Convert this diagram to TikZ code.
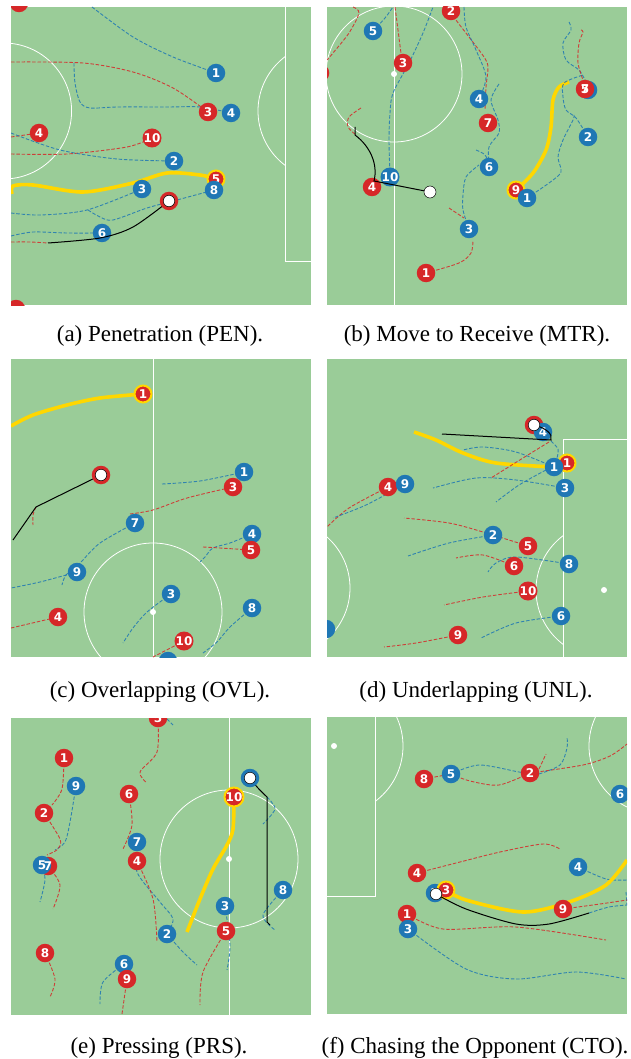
\documentclass[tikz,border=0pt]{standalone}
\usepackage{fontspec}
\setmainfont{Liberation Serif}
\newfontfamily\numfont{DejaVu Sans}
\definecolor{pitch}{RGB}{154,204,152}
\definecolor{pred}{RGB}{214,39,40}
\definecolor{pblue}{RGB}{31,119,180}
\definecolor{pyel}{RGB}{255,215,0}
\tikzset{
 pl/.style={circle, minimum size=18.5pt, inner sep=0pt, text=white, font=\numfont\bfseries\fontsize{12}{12}\selectfont},
 rp/.style={pl, fill=pred},
 bp/.style={pl, fill=pblue},
 rpy/.style={pl, fill=pred, draw=pyel, line width=2pt, minimum size=17pt},
 ballring/.style={circle, minimum size=18.5pt, inner sep=0pt, fill=#1},
 ballc/.style={circle, minimum size=11.5pt, inner sep=0pt, fill=white, draw=black, line width=0.5pt},
 trr/.style={draw=pred, line width=0.9pt, dash pattern=on 3.5pt off 1.8pt, opacity=0.85},
 trb/.style={draw=pblue, line width=0.9pt, dash pattern=on 3.5pt off 1.8pt, opacity=0.85},
 yel/.style={draw=pyel, line width=3.6pt},
 blk/.style={draw=black, line width=1pt},
 fl/.style={draw=white, line width=0.8pt},
 spot/.style={circle, fill=white, minimum size=6pt, inner sep=0pt},
 captxt/.style={font=\fontsize{23}{28}\selectfont}
}
\begin{document}
\begin{tikzpicture}[x=1pt,y=-1pt]
\fill[white] (0,0) rectangle (631,1059);
\useasboundingbox (0,0) rectangle (631,1059);

% ================= panel a =================
\begin{scope}
\clip (11,7) rectangle (311,305);
\fill[pitch] (11,7) rectangle (311,305);
\draw[fl] (3.6,111) circle[radius=68];
\draw[fl] (285,7) -- (285,261) -- (311,261);
\begin{scope}\clip (11,7) rectangle (285,305); \draw[fl] (326,111) circle[radius=68]; \end{scope}
\coordinate (aR0) at (19,3);
\coordinate (aR00) at (16,309);
\coordinate (aB1) at (216,73);
\coordinate (aR3) at (208,112);
\coordinate (aB4) at (231,113);
\coordinate (aR4) at (39,133);
\coordinate (aR10) at (152,138);
\coordinate (aB2) at (174,161);
\coordinate (aR5) at (216,179);
\coordinate (aB8) at (214,190);
\coordinate (aB3) at (142,189);
\coordinate (aBall) at (169,201);
\coordinate (aB6) at (102,233);
\draw[trb] plot[smooth] coordinates {(92,7) (133,37) (173,57) (aB1)};
\draw[trr] plot[smooth] coordinates {(11,62) (83,63) (133,72) (173,88) (aR3)};
\draw[trb] plot[smooth] coordinates {(74,63) (75,83) (80,102) (90,108) (117,107) (167,107) (200,107) (aB4)};
\draw[trr] plot[smooth] coordinates {(11,137) (aR4)};
\draw[trr] plot[smooth] coordinates {(11,154) (67,154) (127,147) (aR10)};
\draw[trb] plot[smooth] coordinates {(11,133) (60,150) (117,159) (aB2)};
\draw[yel] plot[smooth] coordinates {(12,194) (13,186) (33,185) (83,192) (133,183) (167,173) (200,175) (aR5)};
\draw[trb] plot[smooth] coordinates {(11,213) (40,215) (87,210) (aB3)};
\draw[trb] plot[smooth] coordinates {(88,210) (100,217) (113,220) (147,208) (177,200) (aB8)};
\draw[trb] plot[smooth] coordinates {(11,236) (33,232) (67,233) (aB6)};
\draw[trr] plot[smooth] coordinates {(11,242) (30,242) (48,243)};
\node[rp] (p-aR0) at (aR0) {};
\node[rp] (p-aR00) at (aR00) {};
\node[bp] (p-aB1) at (aB1) {1};
\node[rp] (p-aR3) at (aR3) {3};
\node[bp] (p-aB4) at (aB4) {4};
\node[rp] (p-aR4) at (aR4) {4};
\node[rp] (p-aR10) at (aR10) {10};
\node[bp] (p-aB2) at (aB2) {2};
\node[bp] (p-aB3) at (aB3) {3};
\node[rpy] (p-aR5) at (aR5) {5};
\node[bp] (p-aB8) at (aB8) {8};
\node[bp] (p-aB6) at (aB6) {6};
\draw[blk] plot[smooth] coordinates {(48,243) (100,238) (133,227) (aBall)};
\node[ballring=pred] (p-aBr) at (aBall) {};
\node[ballc] (p-aBall) at (aBall) {};
\end{scope}

% ================= panel b =================
\begin{scope}
\clip (327,7) rectangle (627,305);
\fill[pitch] (327,7) rectangle (627,305);
\draw[fl] (394,7) -- (394,305);
\draw[fl] (394,74) circle[radius=68];
\coordinate (bB5) at (373,31);
\coordinate (bR3) at (403,63);
\coordinate (bR2) at (451,11);
\coordinate (bRx) at (320,73);
\coordinate (bB4) at (479,99);
\coordinate (bR7) at (488,123);
\coordinate (bR4) at (372,187);
\coordinate (bB10) at (390,177);
\coordinate (bBall) at (430,192);
\coordinate (bB6) at (489,167);
\coordinate (bB3) at (469,229);
\coordinate (bR1) at (426,273);
\coordinate (bR9) at (516,190);
\coordinate (bB1) at (527,198);
\coordinate (bR5) at (585,89);
\coordinate (bBx) at (588,90);
\coordinate (bB2) at (588,137);
\draw[trr] plot[smooth] coordinates {(bR2) (456,20) (469,37) (484,57) (488,67) (486,87) (485,110)};
\draw[trb] plot[smooth] coordinates {(464,7) (466,27) (476,50) (486,77) (bB4)};
\draw[trb] plot[smooth] coordinates {(499,84) (491,100) (498,120) (499,133) (489,147) (bB6)};
\draw[trb] plot[smooth] coordinates {(476,150) (484,154) (488,160)};
\draw[trb] plot[smooth] coordinates {(bB3) (463,210) (463,195) (466,177) (479,165)};
\draw[trr] plot[smooth] coordinates {(449,208) (464,218)};
\draw[trr] plot[smooth] coordinates {(bR1) (459,263) (471,253) (473,240)};
\draw[trb] plot[smooth] coordinates {(bB10) (389,140) (390,113) (393,93) (409,63) (423,33) (433,7)};
\draw[trr] plot[smooth] coordinates {(bR3) (401,53) (398,30) (395,7)};
\draw[trb] plot[smooth] coordinates {(bB5) (385,18) (393,7)};
\draw[trr] plot[smooth] coordinates {(353,7) (359,13) (349,33) (333,53) (327,60)};
\draw[trr] plot[smooth] coordinates {(361,108) (349,117) (348,127) (356,135)};
\draw[yel] plot[smooth] coordinates {(bR9) (533,173) (546,150) (551,127) (553,100) (559,87) (569,82)};
\draw[trb] plot[smooth] coordinates {(bB1) (549,183) (561,172) (558,157) (563,140) (573,120) (574,115)};
\draw[trb] plot[smooth] coordinates {(bB2) (576,118) (566,110) (563,97) (564,83) (583,75)};
\draw[trb] plot[smooth] coordinates {(569,22) (571,30) (563,43) (566,60) (579,70) (585,80)};
\draw[trr] plot[smooth] coordinates {(581,30) (583,32) (579,43) (578,63) (583,80)};
\node[rp] (p-bRx) at (bRx) {};
\node[bp] (p-bB5) at (bB5) {5};
\node[rp] (p-bR3) at (bR3) {3};
\node[rp] (p-bR2) at (bR2) {2};
\node[bp] (p-bB4) at (bB4) {4};
\node[rp] (p-bR7) at (bR7) {7};
\node[bp] (p-bB10) at (bB10) {10};
\node[rp] (p-bR4) at (bR4) {4};
\node[bp] (p-bB6) at (bB6) {6};
\node[bp] (p-bB3) at (bB3) {3};
\node[rp] (p-bR1) at (bR1) {1};
\node[rpy] (p-bR9) at (bR9) {9};
\node[bp] (p-bB1) at (bB1) {1};
\node[bp] (p-bBx) at (bBx) {};
\node[rp] (p-bR5) at (bR5) {5};
\node[pl] (p-bR7b) at (bR5) {7};
\node[bp] (p-bB2) at (bB2) {2};
\node[spot] (bspot) at (394,74) {};
\draw[blk] (355,127) -- (355,135) .. controls (371,147) and (378,165) .. (374,181) -- (bBall);
\node[ballc, minimum size=12pt] (p-bBall) at (bBall) {};
\end{scope}

% ================= panel c =================
\begin{scope}
\clip (11,359) rectangle (311,657);
\fill[pitch] (11,359) rectangle (311,657);
\draw[fl] (153,359) -- (153,657);
\draw[fl] (153,612) circle[radius=69];
\node[spot] (cspot) at (153,612) {};
\coordinate (cR1) at (143,394);
\coordinate (cBall) at (101,475);
\coordinate (cB1) at (244,472);
\coordinate (cR3) at (233,487);
\coordinate (cB7) at (135,523);
\coordinate (cB4) at (252,534);
\coordinate (cR5) at (251,550);
\coordinate (cB9) at (77,572);
\coordinate (cB3) at (171,594);
\coordinate (cB8) at (252,608);
\coordinate (cR4) at (58,617);
\coordinate (cR10) at (184,641);
\coordinate (cBx) at (168,661);
\draw[yel] plot[smooth] coordinates {(11,426) (33,415) (67,405) (100,398) (cR1)};
\draw[trr] plot[smooth] coordinates {(36,507) (33,515) (33,525)};
\draw[trb] plot[smooth] coordinates {(162,484) (200,481) (cB1)};
\draw[trr] plot[smooth] coordinates {(130,514) (153,510) (187,498) (cR3)};
\draw[trb] plot[smooth] coordinates {(cB7) (100,543) (80,563) (66,575) (62,585)};
\draw[trb] plot[smooth] coordinates {(cB9) (40,582) (11,588)};
\draw[trb] plot[smooth] coordinates {(cB4) (230,543) (213,548) (205,557) (200,562)};
\draw[trr] plot[smooth] coordinates {(203,547) (220,548) (cR5)};
\draw[trb] plot[smooth] coordinates {(cB3) (147,612) (133,628) (123,643)};
\draw[trb] plot[smooth] coordinates {(cB8) (230,627) (217,642) (203,653)};
\draw[trr] plot[smooth] coordinates {(11,628) (cR4)};
\draw[trr] plot[smooth] coordinates {(cR10) (153,657)};
\node[rpy] (p-cR1) at (cR1) {1};
\node[bp] (p-cB1) at (cB1) {1};
\node[rp] (p-cR3) at (cR3) {3};
\node[bp] (p-cB7) at (cB7) {7};
\node[bp] (p-cB4) at (cB4) {4};
\node[rp] (p-cR5) at (cR5) {5};
\node[bp] (p-cB9) at (cB9) {9};
\node[bp] (p-cB3) at (cB3) {3};
\node[bp] (p-cB8) at (cB8) {8};
\node[rp] (p-cR4) at (cR4) {4};
\node[rp] (p-cR10) at (cR10) {10};
\node[bp] (p-cBx) at (cBx) {};
\draw[blk] (13,540) -- (36,507) -- (cBall);
\node[ballring=pred] (p-cBr) at (cBall) {};
\node[ballc] (p-cBall) at (cBall) {};
\end{scope}

% ================= panel d =================
\begin{scope}
\clip (327,359) rectangle (627,657);
\fill[pitch] (327,359) rectangle (627,657);
\draw[fl] (563,657) -- (563,439) -- (627,439);
\begin{scope}\clip (327,359) rectangle (563,657); \draw[fl] (604,590) circle[radius=68]; \end{scope}
\draw[fl] (282,588) circle[radius=68];
\node[spot] (dspot) at (604,590) {};
\coordinate (dBall) at (534,425);
\coordinate (dB4) at (543,432);
\coordinate (dR1) at (567,463);
\coordinate (dB1) at (554,467);
\coordinate (dB3) at (565,488);
\coordinate (dR4) at (388,487);
\coordinate (dB9) at (405,484);
\coordinate (dB2) at (493,535);
\coordinate (dR5) at (528,546);
\coordinate (dR6) at (514,566);
\coordinate (dB8) at (569,564);
\coordinate (dR10) at (528,591);
\coordinate (dB6) at (561,616);
\coordinate (dR9) at (458,635);
\coordinate (dBx) at (326,629);
\draw[yel] plot[smooth] coordinates {(414,432) (436,440) (463,453) (496,463) (dB1)};
\draw[trb] plot[smooth] coordinates {(dB1) (516,452) (483,447) (463,450)};
\draw[trb] plot[smooth] coordinates {(551,441) (558,449) (557,458)};
\draw[trr] plot[smooth] coordinates {(549,442) (523,458) (491,478)};
\draw[trb] plot[smooth] coordinates {(dB3) (516,480) (476,478) (433,488)};
\draw[trb] plot[smooth] coordinates {(546,470) (519,485) (496,502)};
\draw[trr] plot[smooth] coordinates {(dR4) (349,508) (327,527)};
\draw[trb] plot[smooth] coordinates {(dB9) (366,505) (333,518)};
\draw[trr] plot[smooth] coordinates {(dR5) (483,532) (449,523) (404,518)};
\draw[trb] plot[smooth] coordinates {(dB2) (449,543) (408,556)};
\draw[trr] plot[smooth] coordinates {(dR6) (483,555) (456,558)};
\draw[trb] plot[smooth] coordinates {(dB8) (516,557) (496,563) (488,572)};
\draw[trr] plot[smooth] coordinates {(dR10) (483,597) (444,605)};
\draw[trb] plot[smooth] coordinates {(dB6) (516,623) (481,638)};
\draw[trr] plot[smooth] coordinates {(dR9) (416,643) (384,647)};
\node[ballring=pred] (p-dBr) at (dBall) {};
\node[bp] (p-dB4) at (dB4) {4};
\node[rpy] (p-dR1) at (dR1) {1};
\node[bp] (p-dB1) at (dB1) {1};
\node[bp] (p-dB3) at (dB3) {3};
\node[rp] (p-dR4) at (dR4) {4};
\node[bp] (p-dB9) at (dB9) {9};
\node[bp] (p-dB2) at (dB2) {2};
\node[rp] (p-dR5) at (dR5) {5};
\node[rp] (p-dR6) at (dR6) {6};
\node[bp] (p-dB8) at (dB8) {8};
\node[rp] (p-dR10) at (dR10) {10};
\node[bp] (p-dB6) at (dB6) {6};
\node[rp] (p-dR9) at (dR9) {9};
\node[bp] (p-dBx) at (dBx) {};
\draw[blk] (442,434) -- (551,440) .. controls (553,434) and (546,428) .. (dBall);
\node[ballc] (p-dBall) at (dBall) {};
\end{scope}

% ================= panel e =================
\begin{scope}
\clip (11,718) rectangle (311,1015);
\fill[pitch] (11,718) rectangle (311,1015);
\draw[fl] (229,718) -- (229,1015);
\draw[fl] (229,859) circle[radius=69];
\node[spot] (espot) at (229,859) {};
\coordinate (eR5t) at (158,718);
\coordinate (eR1) at (64,758);
\coordinate (eB9) at (76,786);
\coordinate (eR2) at (44,813);
\coordinate (eR7) at (48,866);
\coordinate (eB5) at (42,865);
\coordinate (eR6) at (129,794);
\coordinate (eB7) at (137,842);
\coordinate (eR4) at (137,861);
\coordinate (eBall) at (250,778);
\coordinate (eR10) at (234,797);
\coordinate (eB8) at (283,890);
\coordinate (eB3) at (225,906);
\coordinate (eR5) at (226,931);
\coordinate (eB2) at (167,934);
\coordinate (eR8) at (45,953);
\coordinate (eB6) at (124,964);
\coordinate (eR9) at (127,979);
\draw[trr] plot[smooth] coordinates {(eR5t) (157,752) (140,772) (147,783)};
\draw[trb] plot[smooth] coordinates {(167,719) (173,725)};
\draw[trr] plot[smooth] coordinates {(eR1) (62,789) (52,805)};
\draw[trb] plot[smooth] coordinates {(eB9) (70,822) (65,842) (55,850)};
\draw[trr] plot[smooth] coordinates {(eR2) (60,839) (58,849) (47,855)};
\draw[trb] plot[smooth] coordinates {(eB5) (45,880) (40,902)};
\draw[trr] plot[smooth] coordinates {(eR7) (60,885) (53,909)};
\draw[trr] plot[smooth] coordinates {(eR6) (132,825) (123,849)};
\draw[trb] plot[smooth] coordinates {(eB7) (137,872) (160,902) (173,919) (eB2)};
\draw[trr] plot[smooth] coordinates {(eR4) (153,899) (157,942)};
\draw[trb] plot[smooth] coordinates {(eB2) (183,952) (197,965)};
\draw[yel] plot[smooth] coordinates {(eR10) (233,829) (227,845) (213,869) (200,899) (187,932)};
\draw[trb] plot[smooth] coordinates {(267,797) (275,809) (263,824)};
\draw[trb] plot[smooth] coordinates {(eB8) (263,915) (275,930)};
\draw[trb] plot[smooth] coordinates {(eB3) (230,945) (227,970)};
\draw[trr] plot[smooth] coordinates {(eR5) (203,972) (200,1005)};
\draw[trr] plot[smooth] coordinates {(eR8) (55,979) (50,997)};
\draw[trb] plot[smooth] coordinates {(eB6) (103,982) (100,1004)};
\draw[trr] plot[smooth] coordinates {(eR9) (122,1014)};
\node[rp] (p-eR5t) at (eR5t) {5};
\node[rp] (p-eR1) at (eR1) {1};
\node[bp] (p-eB9) at (eB9) {9};
\node[rp] (p-eR2) at (eR2) {2};
\node[rp] (p-eR7) at (eR7) {};
\node[bp] (p-eB5) at (eB5) {5};
\node[pl] (p-eR7t) at (eR7) {7};
\node[rp] (p-eR6) at (eR6) {6};
\node[bp] (p-eB7) at (eB7) {7};
\node[rp] (p-eR4) at (eR4) {4};
\node[rpy] (p-eR10) at (eR10) {10};
\node[bp] (p-eB8) at (eB8) {8};
\node[bp] (p-eB3) at (eB3) {3};
\node[rp] (p-eR5) at (eR5) {5};
\node[bp] (p-eB2) at (eB2) {2};
\node[rp] (p-eR8) at (eR8) {8};
\node[bp] (p-eB6) at (eB6) {6};
\node[rp] (p-eR9) at (eR9) {9};
\draw[blk] (eBall) .. controls (257,788) and (263,793) .. (267,797) -- (267,922) -- (270,925);
\node[ballring=pblue] (p-eBr) at (eBall) {};
\node[ballc] (p-eBall) at (eBall) {};
\end{scope}

% ================= panel f =================
\begin{scope}
\clip (327,717) rectangle (627,1014);
\fill[pitch] (327,717) rectangle (627,1014);
\draw[fl] (327,896) -- (375,896) -- (375,717);
\begin{scope}\clip (375,717) rectangle (627,1014); \draw[fl] (334,746) circle[radius=69]; \end{scope}
\draw[fl] (657,746) circle[radius=68];
\node[spot] (fspot) at (334,746) {};
\coordinate (fR8) at (424,779);
\coordinate (fB5) at (451,774);
\coordinate (fR2) at (530,773);
\coordinate (fB6) at (620,794);
\coordinate (fR4) at (417,873);
\coordinate (fB4) at (578,867);
\coordinate (fBx) at (435,893);
\coordinate (fR3) at (446,890);
\coordinate (fBall) at (436,894);
\coordinate (fR9) at (563,909);
\coordinate (fR1) at (407,914);
\coordinate (fB3) at (408,929);
\draw[trr] plot[smooth] coordinates {(fR8) (fB5)};
\draw[trr] plot[smooth] coordinates {(fB5) (470,781) (499,785) (fR2)};
\draw[trr] plot[smooth] coordinates {(fR2) (583,765) (610,756) (627,744)};
\draw[trr] plot[smooth] coordinates {(539,769) (546,754)};
\draw[trb] plot[smooth] coordinates {(fB5) (479,765) (519,772) (fR2)};
\draw[trb] plot[smooth] coordinates {(539,774) (560,765) (567,748) (567,737)};
\draw[trr] plot[smooth] coordinates {(fR4) (460,862) (500,852) (543,844) (560,849)};
\draw[trb] plot[smooth] coordinates {(fB4) (606,879) (627,880)};
\draw[yel] plot[smooth] coordinates {(fR3) (466,900) (523,912) (569,902) (606,885) (627,860)};
\draw[trb] plot[smooth] coordinates {(589,913) (609,907) (627,905)};
\draw[trb] plot[smooth] coordinates {(626,892) (627,905)};
\draw[trr] plot[smooth] coordinates {(fR9) (600,904) (627,900)};
\draw[trr] plot[smooth] coordinates {(fR1) (443,929) (516,927) (606,940)};
\draw[trb] plot[smooth] coordinates {(fB3) (466,969) (516,979) (576,972) (626,979)};
\node[rp] (p-fR8) at (fR8) {8};
\node[bp] (p-fB5) at (fB5) {5};
\node[rp] (p-fR2) at (fR2) {2};
\node[bp] (p-fB6) at (fB6) {6};
\node[rp] (p-fR4) at (fR4) {4};
\node[bp] (p-fB4) at (fB4) {4};
\node[bp] (p-fBx) at (fBx) {7};
\node[rpy] (p-fR3) at (fR3) {3};
\node[rp] (p-fR9) at (fR9) {9};
\node[rp] (p-fR1) at (fR1) {1};
\node[bp] (p-fB3) at (fB3) {3};
\draw[blk] plot[smooth] coordinates {(fBall) (466,909) (516,924) (549,924) (589,913)};
\node[ballc] (p-fBall) at (fBall) {};
\end{scope}

% ================= captions =================
\node[captxt] (capa) at (160,336) {(a) Penetration (PEN).};
\node[captxt] (capb) at (477,336) {(b) Move to Receive (MTR).};
\node[captxt] (capc) at (160,692) {(c) Overlapping (OVL).};
\node[captxt] (capd) at (476,692) {(d) Underlapping (UNL).};
\node[captxt] (cape) at (159,1048) {(e) Pressing (PRS).};
\node[captxt] (capf) at (475,1048) {(f) Chasing the Opponent (CTO).};
\end{tikzpicture}
\end{document}
